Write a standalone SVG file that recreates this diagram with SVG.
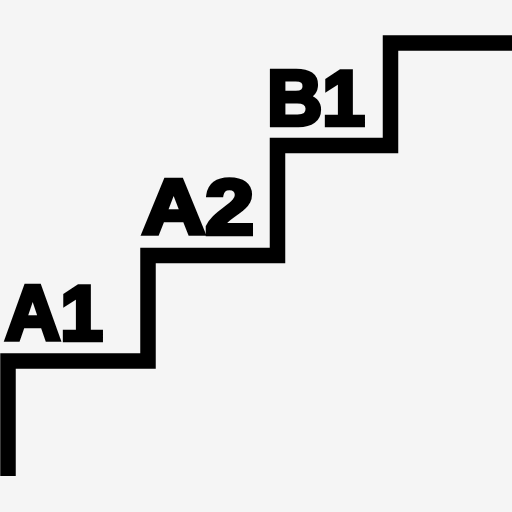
<svg xmlns="http://www.w3.org/2000/svg" width="512" height="512" viewBox="0 0 512 512">
<style>
.lbl{font-family:"Liberation Sans",Arial,sans-serif;font-weight:bold;font-size:77px;fill:#000;stroke:#000;stroke-width:4.5;stroke-linejoin:miter;stroke-miterlimit:4}
.stair{fill:none;stroke:#000;stroke-width:15.5;stroke-linejoin:miter;stroke-linecap:butt}
</style>
<rect width="512" height="512" fill="#f5f5f5"/>
<g id="stairs">
<path class="stair" d="M8 476 V361 H148 V255.5 H277.5 V145.5 H390.5 V43 H512"/>
</g>
<g id="label-a1"><text class="lbl" x="5" y="340" textLength="98" lengthAdjust="spacingAndGlyphs">A1</text></g>
<g id="label-a2"><text class="lbl" x="142" y="234" textLength="112" lengthAdjust="spacingAndGlyphs">A2</text></g>
<g id="label-b1"><text class="lbl" x="267" y="125" textLength="98" lengthAdjust="spacingAndGlyphs">B1</text></g>
</svg>
